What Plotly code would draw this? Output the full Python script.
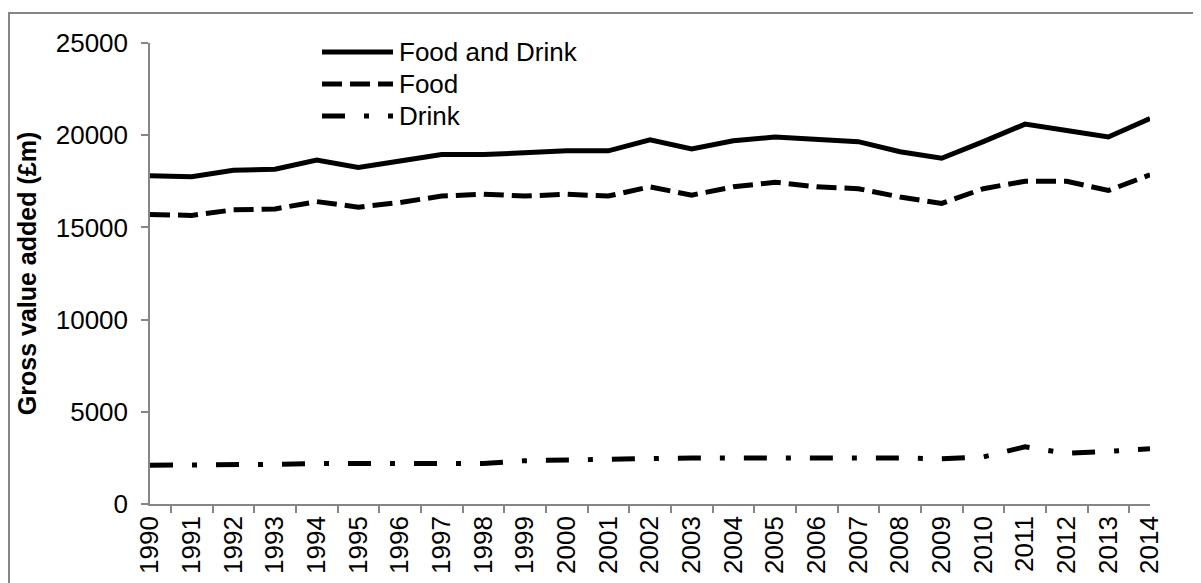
import plotly.graph_objects as go

years = [str(y) for y in range(1990, 2015)]

food_and_drink = [17800, 17750, 18100, 18150, 18650, 18250, 18600, 18950, 18950, 19050,
                  19150, 19150, 19750, 19250, 19700, 19900, 19750, 19650, 19100, 18750,
                  19650, 20600, 20250, 19900, 20900]
food = [15700, 15650, 15950, 16000, 16400, 16100, 16350, 16700, 16800, 16700,
        16800, 16700, 17200, 16750, 17200, 17450, 17200, 17100, 16650, 16300,
        17100, 17500, 17500, 17000, 17850]
drink = [2100, 2100, 2150, 2150, 2200, 2200, 2200, 2250, 2200, 2350,
         2400, 2450, 2500, 2500, 2500, 2500, 2550, 2550, 2500, 2450,
         2550, 3100, 2750, 2850, 3000]

series_names = ['Food and Drink', 'Food', 'Drink']
dashes = ['solid', '20px,8px', '23px,19px,5px,19px']

font = 'Liberation Sans, Arial, sans-serif'
grey = '#868686'

fig = go.Figure()
for name, vals, dash in zip(series_names, [food_and_drink, food, drink], dashes):
    fig.add_trace(go.Scatter(x=years, y=vals, mode='lines', name=name,
                             line=dict(color='black', width=5, dash=dash)))

# hand-made legend (long line samples like the original)
shapes = []
annotations = []
rows = [0.9805, 0.911, 0.8416]
for name, dash, yy in zip(series_names, dashes, rows):
    shapes.append(dict(type='line', xref='paper', yref='paper', x0=0.172, x1=0.243, y0=yy, y1=yy,
                       line=dict(color='black', width=5, dash=dash)))
    annotations.append(dict(xref='paper', yref='paper', x=0.247, y=yy, text=name, showarrow=False,
                            xanchor='left', yanchor='middle', font=dict(size=26, color='black', family=font)))

# outer frame
shapes.append(dict(type='rect', xref='paper', yref='paper', x0=-0.141, x1=1.2, y0=-0.3, y1=1.065,
                   line=dict(color=grey, width=2), layer='above'))

# page body has an 8px margin, so the figure is shifted by that much
fig.update_layout(
    width=1193, height=575,
    margin=dict(l=142, r=51, t=35, b=79),
    paper_bgcolor='white', plot_bgcolor='white',
    showlegend=False,
    font=dict(family=font, size=26, color='black'),
    shapes=shapes, annotations=annotations,
    xaxis=dict(type='category', showgrid=False, showline=True, linecolor=grey, linewidth=1.5,
               ticks='outside', tickson='boundaries', ticklen=7, tickcolor=grey, tickwidth=1.5,
               tickangle=-90, tickfont=dict(size=26), automargin=False),
    yaxis=dict(range=[0, 25000], dtick=5000, tickformat='d', showgrid=False, zeroline=False,
               showline=True, linecolor=grey, linewidth=1.5, ticks='outside', ticklen=7,
               tickcolor=grey, tickwidth=1.5, tickfont=dict(size=26), ticklabelstandoff=8,
               automargin=False,
               title=dict(text='<b>Gross value added (£m)</b>', font=dict(size=25), standoff=12)),
)

fig.write_html("out.html")
